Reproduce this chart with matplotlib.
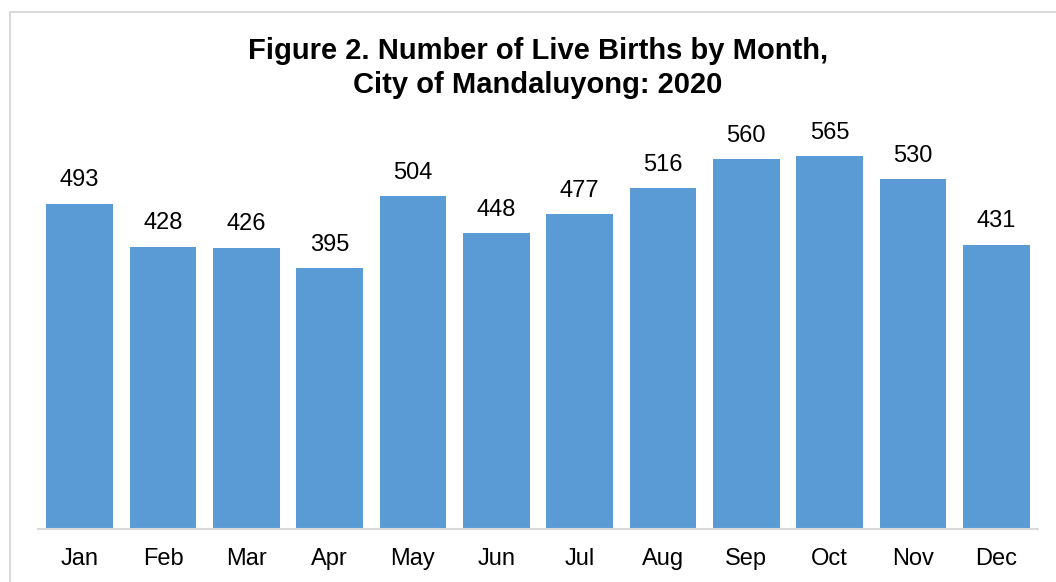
import matplotlib
matplotlib.use("Agg")
import matplotlib.pyplot as plt
from matplotlib.lines import Line2D

months = ["Jan", "Feb", "Mar", "Apr", "May", "Jun", "Jul", "Aug", "Sep", "Oct", "Nov", "Dec"]
births = [493, 428, 426, 395, 504, 448, 477, 516, 560, 565, 530, 431]
title_lines = ["Figure 2. Number of Live Births by Month,", "City of Mandaluyong: 2020"]

plt.rcParams['font.family'] = ['Liberation Sans', 'DejaVu Sans']

W, H = 1056, 582
fig = plt.figure(figsize=(W / 100, H / 100), dpi=100)
fig.patch.set_facecolor("white")

# outer border (only top and left visible)
fig.add_artist(Line2D([9.5 / W, 9.5 / W, 1.0], [0.0, 1 - 12 / H, 1 - 12 / H],
                      transform=fig.transFigure, color="#D9D9D9", lw=1.5))

left, right = 38 / W, 1038 / W
bottom = 1 - 529 / H
top = 1 - 133 / H
ax = fig.add_axes([left, bottom, right - left, top - bottom])

x = range(len(months))
bars = ax.bar(x, births, width=0.8, color="#5B9BD5")
ax.set_xlim(-0.5, len(months) - 0.5)
ax.set_ylim(0, 600)

for xi, v in zip(x, births):
    ax.text(xi, v + 19, str(v), ha="center", va="bottom", fontsize=17, color="#000000", clip_on=False)

for s in ["top", "right", "left"]:
    ax.spines[s].set_visible(False)
ax.spines["bottom"].set_color("#D9D9D9")
ax.spines["bottom"].set_linewidth(1.5)
ax.set_yticks([])
ax.set_xticks(list(x))
ax.set_xticklabels(months, fontsize=17)
ax.tick_params(axis="x", length=0, pad=14)

for line, yc in zip(title_lines, [51, 85]):
    fig.text(538 / W, 1 - yc / H, line, ha="center", va="center", fontsize=21, fontweight="bold")

fig.savefig("out.png", dpi=100)
